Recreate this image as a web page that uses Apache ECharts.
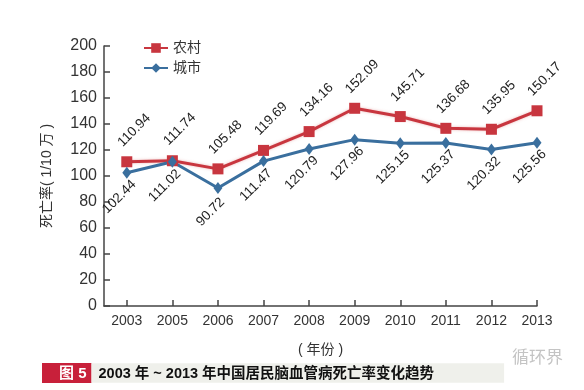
<!DOCTYPE html>
<html><head><meta charset="utf-8">
<script src="https://cdn.jsdelivr.net/npm/echarts@6/dist/echarts.min.js"></script>
<style>html,body{margin:0;padding:0;background:#fff}#c{width:584px;height:390px}</style>
</head><body><div id="c"></div>
<script>
var years = ['2003','2005','2006','2007','2008','2009','2010','2011','2012','2013'];
var rural = [110.94,111.74,105.48,119.69,134.16,152.09,145.71,136.68,135.95,150.17];
var urban = [102.44,111.02,90.72,111.47,120.79,127.96,125.15,125.37,120.32,125.56];
var yTicks = [0,20,40,60,80,100,120,140,160,180,200];
var idx = years.map(function(_, i){ return i; });

var font = '"Liberation Sans", Arial, "Noto Sans CJK SC", sans-serif';
var chart = echarts.init(document.getElementById('c'));
chart.setOption({
  backgroundColor: '#ffffff',
  animation: false,
  textStyle: { fontFamily: font },
  title: [{
    text: '{a|图 5}{b|2003 年 ~ 2013 年中国居民脑血管病死亡率变化趋势}',
    left: 42, top: 363, padding: 0,
    textStyle: { rich: {
      a: { backgroundColor: '#c8203a', color: '#fff', fontSize: 15, padding: [3, 5, 2, 17], lineHeight: 20, fontFamily: font },
      b: { backgroundColor: '#eff0eb', color: '#111', fontSize: 14.5, fontWeight: 'bold', padding: [3, 70, 2, 7], lineHeight: 20, fontFamily: font }
    } }
  }, {
    text: '循环界', left: 512, top: 350, padding: 0,
    textStyle: { color: '#c4c4c4', fontSize: 17, fontWeight: 'normal', fontFamily: font }
  }],
  legend: {
    orient: 'vertical', left: 138, top: 36, itemGap: 6,
    itemWidth: 24, itemHeight: 12,
    textStyle: { fontSize: 14, color: '#333', fontFamily: font },
    data: ['农村', '城市']
  },
  grid: { left: 104, right: 47, top: 46, bottom: 84 },
  xAxis: {
    type: 'value', min: -0.5, max: 9,
    name: '( 年份 )', nameLocation: 'middle', nameGap: 37,
    nameTextStyle: { fontSize: 14, color: '#333' },
    axisLine: { onZero: false, lineStyle: { color: '#444', width: 1.5 } },
    axisTick: { show: true, inside: true, length: 6, customValues: idx, lineStyle: { color: '#444', width: 1.5 } },
    axisLabel: { customValues: idx, fontSize: 14, color: '#333', margin: 8,
      formatter: function(v){ return years[Math.round(v)]; } },
    splitLine: { show: false }
  },
  yAxis: {
    type: 'value', min: 0, max: 200, interval: 20,
    name: '死亡率( 1/10 万 )', nameLocation: 'middle', nameGap: 50,
    nameTextStyle: { fontSize: 14, color: '#333' },
    axisLine: { show: true, onZero: false, lineStyle: { color: '#444', width: 1.5 } },
    axisTick: { show: true, inside: true, length: 6, lineStyle: { color: '#444', width: 1.5 } },
    axisLabel: { fontSize: 16, color: '#333', margin: 7,
      formatter: function(v){ return yTicks.indexOf(v) >= 0 ? String(v) : ''; } },
    splitLine: { show: false }
  },
  series: [{
    name: '农村', type: 'line',
    data: idx.map(function(i){ return [i, rural[i]]; }),
    symbol: 'rect', symbolSize: 11,
    itemStyle: { color: '#c8363f' },
    lineStyle: { color: '#c8363f', width: 3, shadowColor: 'rgba(220,120,120,0.5)', shadowBlur: 3 },
    label: { show: true, position: [13, -26], rotate: 45, align: 'center', verticalAlign: 'middle',
      fontSize: 13.5, color: '#222', formatter: function(p){ return rural[p.dataIndex].toFixed(2); } }
  }, {
    name: '城市', type: 'line',
    data: idx.map(function(i){ return [i, urban[i]]; }),
    symbol: 'diamond', symbolSize: [9, 12],
    itemStyle: { color: '#3a6f9e' },
    lineStyle: { color: '#3a6f9e', width: 3 },
    label: { show: true, position: [-3, 30], rotate: 45, align: 'center', verticalAlign: 'middle',
      fontSize: 13.5, color: '#222', formatter: function(p){ return urban[p.dataIndex].toFixed(2); } }
  }]
});
</script>
</body></html>
